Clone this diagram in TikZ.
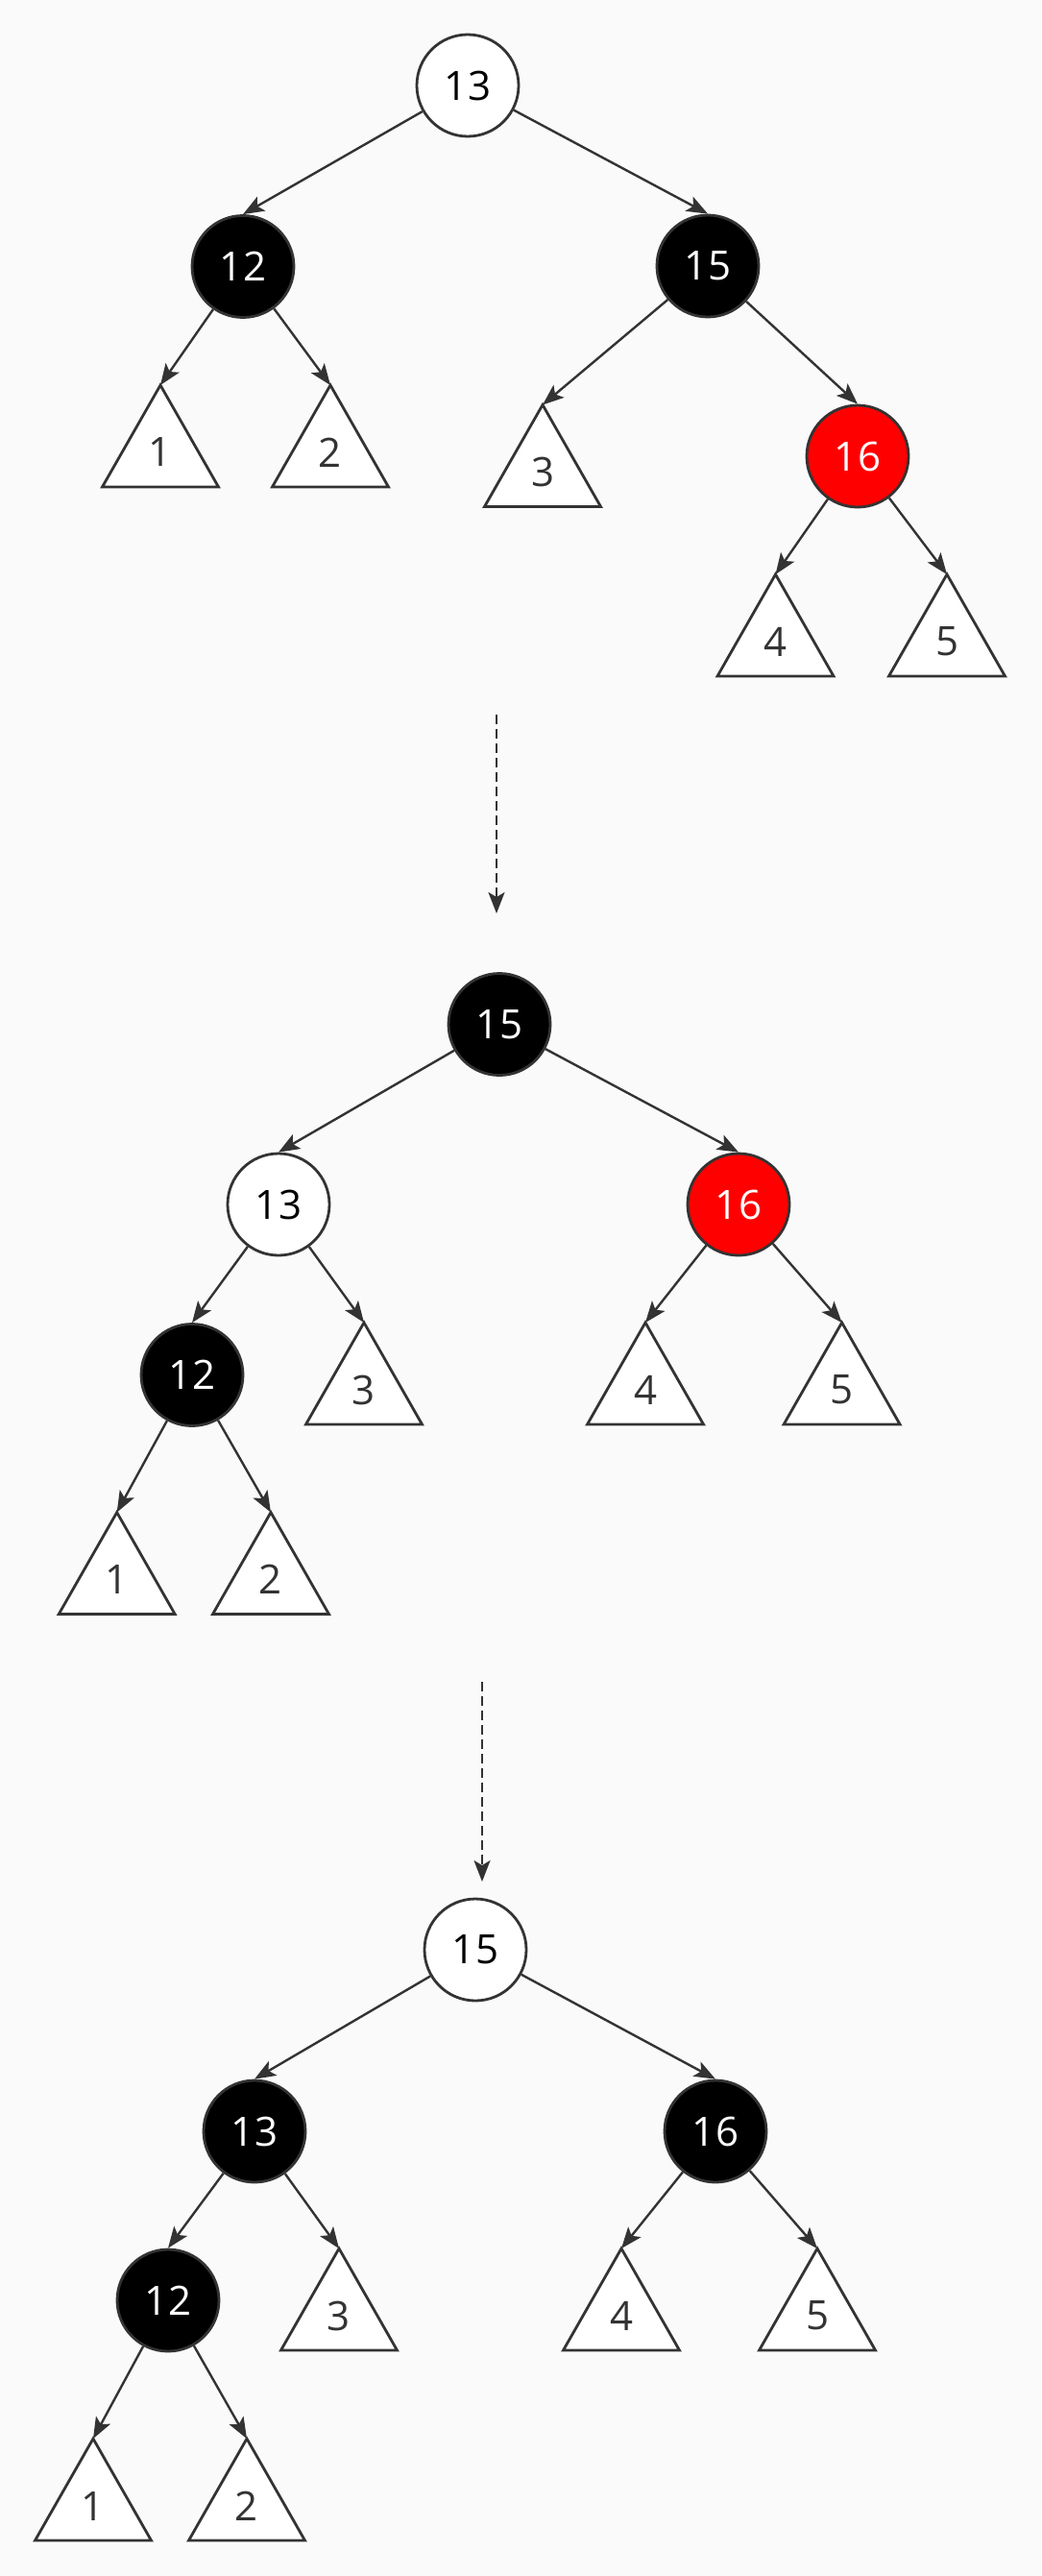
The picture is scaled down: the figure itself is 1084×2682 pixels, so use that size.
\documentclass[tikz,border=0pt]{standalone}
\usepackage{fontspec}
\setmainfont{Open Sans}
\usetikzlibrary{arrows.meta,calc}
\definecolor{bg}{HTML}{FAFAFA}
\definecolor{ink}{HTML}{333333}
\definecolor{rbred}{HTML}{FF0000}
\tikzset{
  rbnode/.style={circle, draw=ink, line width=1.4pt, minimum size=53pt, inner sep=0pt, font=\fontsize{21}{21}\selectfont},
  whitenode/.style={rbnode, fill=white, text=black},
  blacknode/.style={rbnode, fill=black, text=white},
  rednode/.style={rbnode, fill=rbred, text=white},
  edge/.style={draw=ink, line width=1.2pt, -{Stealth[length=11pt,width=8.5pt,inset=2.5pt]}},
  dashedge/.style={draw=ink, line width=1.2pt, dash pattern=on 5pt off 2.5pt, -{Stealth[length=11pt,width=8.5pt,inset=2.5pt]}},
  tribox/.style={draw=ink, line width=1.4pt, fill=white, line join=miter},
  trilabel/.style={text=ink, inner sep=0pt, font=\fontsize{21}{21}\selectfont},
}
\newcommand{\subtri}[4]{%
  \coordinate (#1) at (#2,#3);
  \draw[tribox] (#1) -- ++(-60.5,106) -- ++(121,0) -- cycle;
  \node[trilabel] (#1l) at ($(#1)+(0,70)$) {#4};
}
\begin{document}
\begin{tikzpicture}[x=0.5pt,y=-0.5pt]
\fill[bg] (0,0) rectangle (1084,2682);
\useasboundingbox (0,0) rectangle (1084,2682);
% ---------- Tree 1 ----------
\subtri{t1a}{167}{401}{1}
\subtri{t2a}{344}{401}{2}
\subtri{t3a}{565}{421.5}{3}
\subtri{t4a}{807.5}{598}{4}
\subtri{t5a}{986}{598}{5}
\node[whitenode] (n13a) at (487,89) {13};
\node[blacknode] (n12a) at (253,277.5) {12};
\node[blacknode] (n15a) at (737,277) {15};
\node[rednode] (n16a) at (893,475) {16};
\draw[edge] (n13a) -- (n12a.north);
\draw[edge] (n13a) -- (n15a.north);
\draw[edge] (n12a) -- (t1a);
\draw[edge] (n12a) -- (t2a);
\draw[edge] (n15a) -- (t3a);
\draw[edge] (n15a) -- (n16a.north);
\draw[edge] (n16a) -- (t4a);
\draw[edge] (n16a) -- (t5a);
% ---------- arrow 1 ----------
\coordinate (d1s) at (517,744);
\coordinate (d1e) at (517,951);
\draw[dashedge] (d1s) -- (d1e);
% ---------- Tree 2 ----------
\subtri{t3b}{379}{1377}{3}
\subtri{t4b}{672}{1377}{4}
\subtri{t5b}{876.6}{1377}{5}
\subtri{t1b}{121.7}{1574.6}{1}
\subtri{t2b}{282}{1574.6}{2}
\node[blacknode] (n15b) at (520,1066.5) {15};
\node[whitenode] (n13b) at (290,1254) {13};
\node[rednode] (n16b) at (769,1254) {16};
\node[blacknode] (n12b) at (200,1431.5) {12};
\draw[edge] (n15b) -- (n13b.north);
\draw[edge] (n15b) -- (n16b.north);
\draw[edge] (n13b) -- (n12b.north);
\draw[edge] (n13b) -- (t3b);
\draw[edge] (n16b) -- (t4b);
\draw[edge] (n16b) -- (t5b);
\draw[edge] (n12b) -- (t1b);
\draw[edge] (n12b) -- (t2b);
% ---------- arrow 2 ----------
\coordinate (d2s) at (502,1751);
\coordinate (d2e) at (502,1959);
\draw[dashedge] (d2s) -- (d2e);
% ---------- Tree 3 ----------
\subtri{t3c}{353}{2341}{3}
\subtri{t4c}{647}{2341}{4}
\subtri{t5c}{851}{2341}{5}
\subtri{t1c}{97}{2539}{1}
\subtri{t2c}{257}{2539}{2}
\node[whitenode] (n15c) at (495,2030) {15};
\node[blacknode] (n13c) at (265,2219) {13};
\node[blacknode] (n16c) at (745,2219) {16};
\node[blacknode] (n12c) at (175,2395) {12};
\draw[edge] (n15c) -- (n13c.north);
\draw[edge] (n15c) -- (n16c.north);
\draw[edge] (n13c) -- (n12c.north);
\draw[edge] (n13c) -- (t3c);
\draw[edge] (n16c) -- (t4c);
\draw[edge] (n16c) -- (t5c);
\draw[edge] (n12c) -- (t1c);
\draw[edge] (n12c) -- (t2c);
\end{tikzpicture}
\end{document}
